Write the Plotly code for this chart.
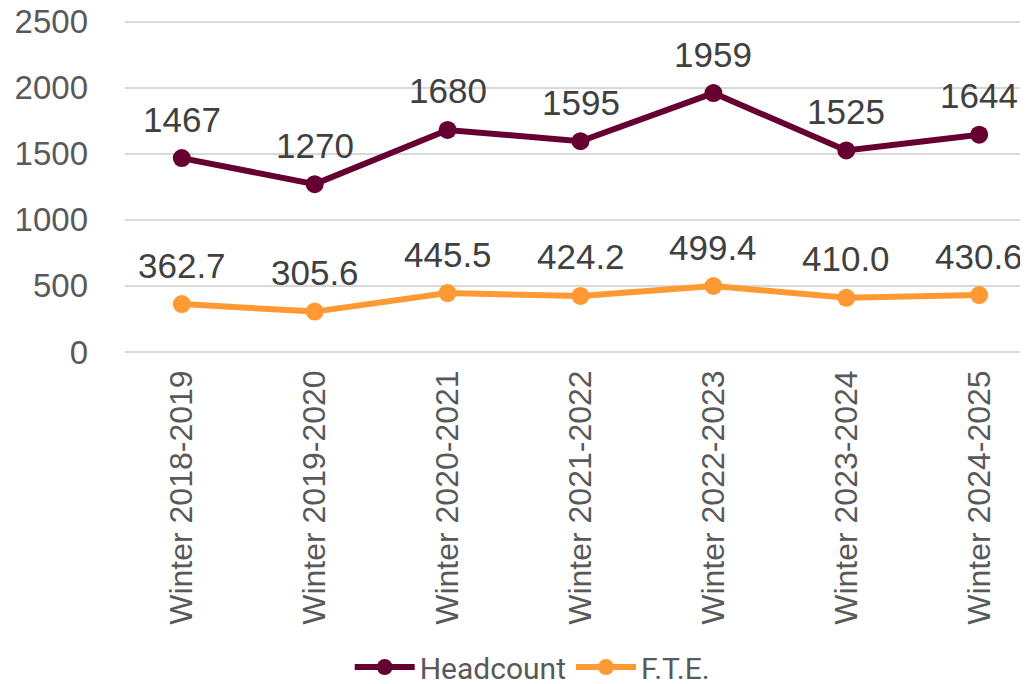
import plotly.graph_objects as go

categories = ["Winter 2018-2019", "Winter 2019-2020", "Winter 2020-2021", "Winter 2021-2022",
              "Winter 2022-2023", "Winter 2023-2024", "Winter 2024-2025"]
headcount = [1467, 1270, 1680, 1595, 1959, 1525, 1644]
fte = [362.7, 305.6, 445.5, 424.2, 499.4, 410.0, 430.6]
y_ticks = [0, 500, 1000, 1500, 2000, 2500]

HC_COLOR = "#660033"
FTE_COLOR = "#FF9933"
FONT = "Liberation Sans"

fig = go.Figure()
fig.add_trace(go.Scatter(x=categories, y=headcount, name="Headcount", mode="lines+markers",
                         line=dict(color=HC_COLOR, width=6), marker=dict(size=18, color=HC_COLOR)))
fig.add_trace(go.Scatter(x=categories, y=fte, name="F.T.E.", mode="lines+markers",
                         line=dict(color=FTE_COLOR, width=6), marker=dict(size=18, color=FTE_COLOR)))

for x, v in zip(categories, headcount):
    fig.add_annotation(x=x, y=v, text=str(v), showarrow=False, yshift=39,
                       font=dict(family=FONT, size=35, color="#404040"))
for x, v in zip(categories, fte):
    fig.add_annotation(x=x, y=v, text=f"{v:.1f}", showarrow=False, yshift=39,
                       font=dict(family=FONT, size=35, color="#404040"))

fig.update_layout(
    width=1028, height=684,
    margin=dict(l=117, r=0, t=12, b=340, autoexpand=False),
    plot_bgcolor="white", paper_bgcolor="white",
    font=dict(family=FONT, color="#595959"),
    showlegend=True,
    legend=dict(orientation="h", x=0.447, xanchor="center", y=-0.949, yanchor="middle",
                font=dict(family="Roboto", size=30, color="#595959"), itemwidth=60),
)
fig.update_xaxes(tickangle=-90, tickfont=dict(family=FONT, size=32, color="#595959"),
                 showgrid=False, showline=False, ticks="", ticklabelstandoff=11, automargin=False)
fig.update_yaxes(range=[0, 2512], tickvals=y_ticks, tickfont=dict(family=FONT, size=33, color="#595959"),
                 showgrid=True, gridcolor="#D9D9D9", gridwidth=1.5, zeroline=True, zerolinecolor="#D9D9D9",
                 zerolinewidth=1.5, ticks="", ticklabelstandoff=36, automargin=False,
                 ticklabeloverflow="allow")

fig.write_html("out.html")
